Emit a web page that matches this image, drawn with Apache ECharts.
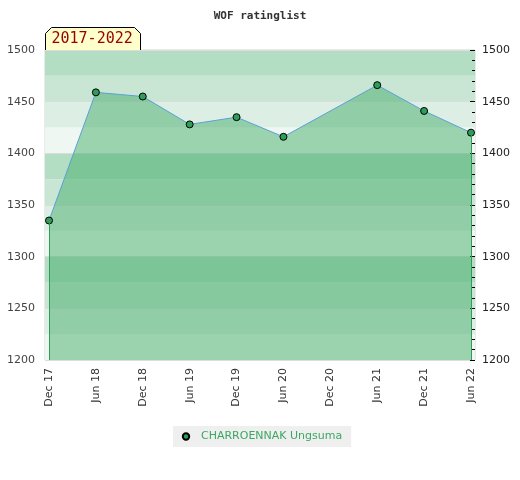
<!DOCTYPE html>
<html>
<head>
<meta charset="utf-8">
<script src="https://cdn.jsdelivr.net/npm/echarts@6/dist/echarts.min.js"></script>
<style>html,body{margin:0;padding:0;background:#fff}#c{width:520px;height:480px}</style>
</head>
<body>
<div id="c"></div>
<script>
var categories = ['Dec 17','Jun 18','Dec 18','Jun 19','Dec 19','Jun 20','Dec 20','Jun 21','Dec 21','Jun 22'];
var ratings = [1335, 1459, 1455, 1428, 1435, 1416, null, 1466, 1441, 1420];
var playerName = 'CHARROENNAK Ungsuma';
var periodLabel = '2017-2022';
var chartTitle = 'WOF ratinglist';
var yMin = 1200, yMax = 1500;

var lastIdx = ratings.length - 1;
var chart = echarts.init(document.getElementById('c'), null, {renderer: 'canvas'});
chart.setOption({
  animation: false,
  title: {
    text: chartTitle, left: 'center', top: 6,
    textStyle: {fontSize: 11, fontFamily: 'DejaVu Sans Mono', fontWeight: 'bold', color: '#333'}
  },
  legend: {
    data: [playerName], left: 173, top: 426,
    backgroundColor: '#efefef', padding: [5, 9, 5, 8],
    itemWidth: 8, itemHeight: 8, itemGap: 6,
    textStyle: {color: '#3aa862', fontSize: 11, fontFamily: 'DejaVu Sans', padding: [0, 0, 0, 6]}
  },
  graphic: [{
    type: 'group', left: 45, top: 27,
    children: [
      {type: 'polygon', shape: {points: [[0,23],[0,6],[6,0],[89,0],[95,6],[95,23]]},
       style: {fill: '#ffffcc', stroke: '#000', lineWidth: 1}},
      {type: 'text', left: 6, top: 4,
       style: {text: periodLabel, fill: '#990000', font: '15px "DejaVu Sans Mono"'}}
    ]
  }],
  grid: [
    {left: 45, right: 45, top: 50, bottom: 120, show: true, borderColor: '#d4d4d4', borderWidth: 1, backgroundColor: 'transparent'},
    {left: 49, right: 49, top: 50, bottom: 120}
  ],
  xAxis: [
    {gridIndex: 0, type: 'value', min: 0, max: 1, show: false},
    {gridIndex: 1, type: 'category', boundaryGap: false, data: categories,
     axisLine: {show: false}, axisTick: {show: false},
     axisLabel: {rotate: 90, color: '#333', fontSize: 11, fontFamily: 'DejaVu Sans', margin: 8, interval: 0}}
  ],
  yAxis: [
    {gridIndex: 0, type: 'value', min: yMin, max: yMax, interval: 25, position: 'left',
     axisLine: {show: false}, axisTick: {show: false}, splitLine: {show: false},
     axisLabel: {color: '#444', fontSize: 11, fontFamily: 'DejaVu Sans', margin: 10,
       formatter: function (v) { return v % 50 === 0 ? String(v) : ''; }},
     splitArea: {show: true, areaStyle: {color: ['#eef7f1', '#ddefe4', '#c8e6d3', '#b3dec4']}}},
    {gridIndex: 0, type: 'value', min: yMin, max: yMax, interval: 50, position: 'right',
     axisLine: {show: false},
     axisTick: {show: true, inside: true, length: 5, lineStyle: {color: '#000'}},
     minorTick: {show: true, splitNumber: 5, length: 3, lineStyle: {color: '#000'}},
     splitLine: {show: true, lineStyle: {color: '#dcdcdc', width: 1}},
     axisLabel: {color: '#222', fontSize: 11, fontFamily: 'DejaVu Sans', margin: 7,
       formatter: function (v) { return String(v); }}},
    {gridIndex: 1, type: 'value', min: yMin, max: yMax, show: false}
  ],
  series: [{
    name: playerName, type: 'line', xAxisIndex: 1, yAxisIndex: 2,
    data: ratings, connectNulls: true,
    symbol: 'circle', symbolSize: 7,
    itemStyle: {color: '#2e9d58', borderColor: '#000', borderWidth: 1},
    lineStyle: {color: '#5aa0d8', width: 1},
    areaStyle: {color: 'rgba(57,168,97,0.46)', opacity: 1, origin: 'start'},
    markLine: {
      silent: true, symbol: 'none', label: {show: false},
      lineStyle: {color: '#2e9d58', width: 1, type: 'solid', opacity: 1},
      data: [
        [{coord: [categories[0], ratings[0]]}, {coord: [categories[0], yMin]}],
        [{coord: [categories[lastIdx], ratings[lastIdx]]}, {coord: [categories[lastIdx], yMin]}]
      ]
    }
  }]
});
</script>
</body>
</html>
